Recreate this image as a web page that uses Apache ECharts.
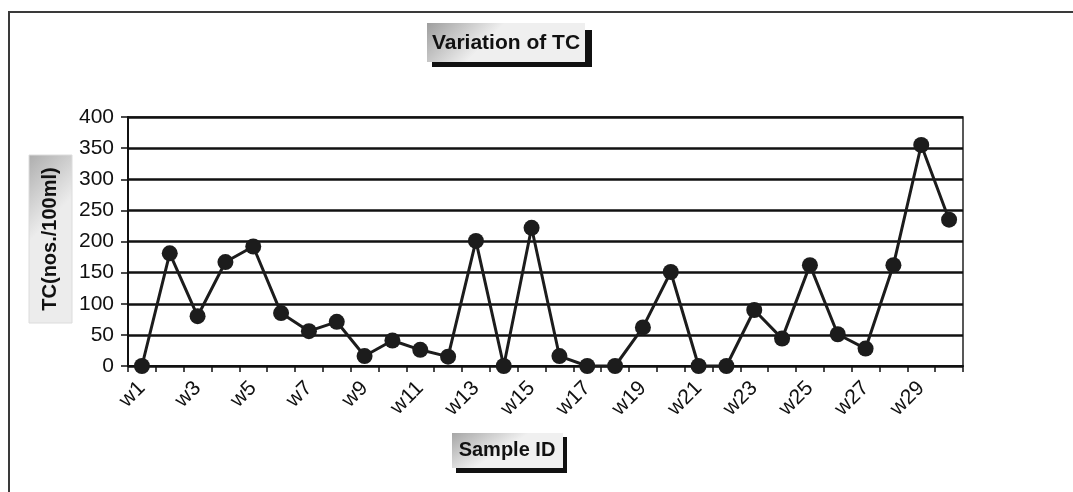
<!DOCTYPE html>
<html>
<head>
<meta charset="utf-8">
<title>Variation of TC</title>
<script src="https://cdn.jsdelivr.net/npm/echarts@6/dist/echarts.min.js"></script>
<style>
  html, body { margin: 0; padding: 0; background: #ffffff; }
  #chart { width: 1073px; height: 492px; }
</style>
</head>
<body>
<div id="chart"></div>
<script>
// Sample identifiers along the x axis
const sampleIds = [
  'w1','w2','w3','w4','w5','w6','w7','w8','w9','w10',
  'w11','w12','w13','w14','w15','w16','w17','w18','w19','w20',
  'w21','w22','w23','w24','w25','w26','w27','w28','w29','w30'
];

// Total coliform counts (nos./100ml) per sample
const tcValues = [
  0, 181, 80, 167, 192, 85, 56, 71, 16, 41,
  26, 15, 201, 0, 222, 16, 0, 0, 62, 151,
  0, 0, 90, 44, 162, 51, 28, 162, 355, 235
];

// Value axis range and step
const yMin = 0;
const yMax = 400;
const yStep = 50;

// Text strings
const chartTitle = 'Variation of TC';
const xTitle = 'Sample ID';
const yTitle = 'TC(nos./100ml)';

const font = '"Liberation Sans", Arial, Helvetica, sans-serif';
const boxFill = (x2, y2, c1, c2) => new echarts.graphic.LinearGradient(0, 0, x2, y2, [
  { offset: 0, color: c1 },
  { offset: 1, color: c2 }
]);

const chart = echarts.init(document.getElementById('chart'), null, { renderer: 'canvas' });

chart.setOption({
  animation: false,
  backgroundColor: '#ffffff',
  grid: {
    left: 128,
    right: 110,
    top: 117,
    bottom: 126,
    show: true,
    borderColor: '#222',
    borderWidth: 1.5,
    backgroundColor: 'transparent'
  },
  xAxis: {
    type: 'category',
    data: sampleIds,
    boundaryGap: true,
    axisLine: { show: true, lineStyle: { color: '#111', width: 2 } },
    axisTick: { show: true, alignWithLabel: false, interval: 0, length: 6, lineStyle: { color: '#111', width: 1.5 } },
    axisLabel: {
      interval: 1,
      rotate: 45,
      margin: 19,
      color: '#111',
      fontFamily: font,
      fontSize: 21
    },
    splitLine: { show: false }
  },
  yAxis: {
    type: 'value',
    min: yMin,
    max: yMax,
    interval: yStep,
    axisLine: { show: true, lineStyle: { color: '#111', width: 2 } },
    axisTick: { show: true, inside: false, length: 7, lineStyle: { color: '#111', width: 1.5 } },
    axisLabel: {
      margin: 14,
      color: '#111',
      fontFamily: font,
      fontSize: 21
    },
    splitLine: { show: true, lineStyle: { color: '#111', width: 2.5 } }
  },
  series: [{
    type: 'line',
    data: tcValues,
    symbol: 'circle',
    symbolSize: 16,
    itemStyle: { color: '#1c1c1c' },
    lineStyle: { color: '#1c1c1c', width: 3 },
    z: 5
  }],
  graphic: [
    // outer frame (top and left edges)
    {
      type: 'polyline',
      shape: { points: [[1073, 12], [9, 12], [9, 492]] },
      style: { stroke: '#3a3a3a', lineWidth: 2, fill: null },
      silent: true
    },
    // chart title box
    {
      type: 'group',
      children: [
        { type: 'rect', shape: { x: 432, y: 30, width: 160, height: 37 }, style: { fill: '#111' } },
        { type: 'rect', shape: { x: 427, y: 23, width: 158, height: 39 }, style: { fill: boxFill(0.25, 1, '#9e9e9e', '#efefef') } },
        {
          type: 'text',
          x: 506, y: 43,
          style: {
            text: chartTitle,
            fill: '#111',
            font: 'bold 21px ' + font,
            align: 'center',
            verticalAlign: 'middle'
          }
        }
      ]
    },
    // x axis title box
    {
      type: 'group',
      children: [
        { type: 'rect', shape: { x: 456, y: 437, width: 111, height: 36 }, style: { fill: '#111' } },
        { type: 'rect', shape: { x: 452, y: 433, width: 111, height: 35 }, style: { fill: boxFill(0.2, 1, '#a6a6a6', '#f0f0f0') } },
        {
          type: 'text',
          x: 507, y: 450,
          style: {
            text: xTitle,
            fill: '#111',
            font: 'bold 20px ' + font,
            align: 'center',
            verticalAlign: 'middle'
          }
        }
      ]
    },
    // y axis title box
    {
      type: 'group',
      children: [
        { type: 'rect', shape: { x: 29, y: 155, width: 43, height: 168 }, style: { fill: boxFill(1, 0.25, '#adadad', '#ececec'), stroke: '#dcdcdc', lineWidth: 1 } },
        {
          type: 'text',
          x: 50, y: 239,
          rotation: Math.PI / 2,
          style: {
            text: yTitle,
            fill: '#111',
            font: 'bold 20px ' + font,
            align: 'center',
            verticalAlign: 'middle'
          }
        }
      ]
    }
  ]
});
</script>
</body>
</html>
